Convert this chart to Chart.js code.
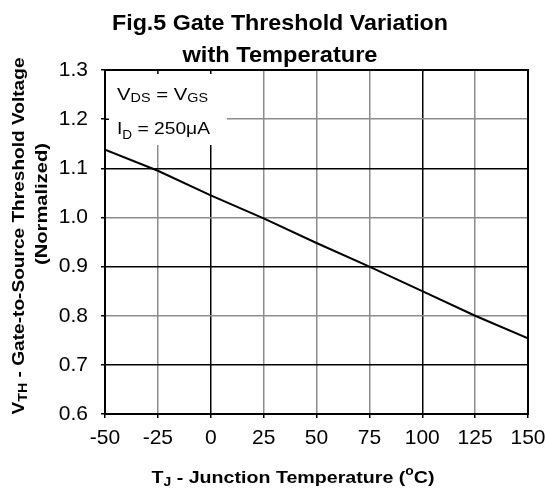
<!DOCTYPE html>
<html>
<head>
<meta charset="utf-8">
<script src="https://cdn.jsdelivr.net/npm/chart.js@4.4.1/dist/chart.umd.min.js"></script>
<style>
  html, body { margin: 0; padding: 0; background: #fff; }
</style>
</head>
<body>
<canvas id="fig5" width="545" height="491"></canvas>
<script>
/************/
/*** DATA ***/
/************/

// Junction temperature (°C) and normalized threshold voltage:
const temps = [-50, -25, 0, 25, 50, 75, 100, 125, 150];
const vthNorm = [1.138, 1.095, 1.045, 0.998, 0.948, 0.900, 0.850, 0.800, 0.754];

// Axis ticks:
const xTickLabels = ['-50', '-25', '0', '25', '50', '75', '100', '125', '150'];
const yTickLabels = ['0.6', '0.7', '0.8', '0.9', '1.0', '1.1', '1.2', '1.3'];

// Grid lines drawn in black (the rest are grey):
const darkXLines = [0, 100];
const darkYLines = [1.1, 0.9, 0.7];

/***************/
/*** HELPERS ***/
/***************/

const FONT = '"Liberation Sans", Arial, sans-serif';

// Draw text made of segments (normal / sub / sup), stretched to a target width.
// (x, y) is the baseline anchor; align is 'center' or 'left'.
function drawRich(ctx, segs, x, y, size, bold, targetW, align, rot) {
    const w = bold ? 'bold ' : '';
    const fontFor = s => w + Math.round(size * (s.sub || s.sup ? 0.72 : 1)) + 'px ' + FONT;
    let total = 0;
    segs.forEach(s => { ctx.font = fontFor(s); total += ctx.measureText(s.t).width; });
    const sx = targetW ? targetW / total : 1;
    ctx.save();
    ctx.translate(x, y);
    if (rot) ctx.rotate(rot);
    ctx.scale(sx, 1);
    ctx.fillStyle = '#000';
    ctx.textBaseline = 'alphabetic';
    ctx.textAlign = 'left';
    let cx = align === 'left' ? 0 : -total / 2;
    segs.forEach(s => {
        ctx.font = fontFor(s);
        let dy = 0;
        if (s.sub) dy = s.dy !== undefined ? s.dy : size * 0.18;
        if (s.sup) dy = -size * 0.45;
        ctx.fillText(s.t, cx, dy);
        cx += ctx.measureText(s.t).width;
    });
    ctx.restore();
}

// Conditions box, titles and frame:
const annotations = {
    id: 'annotations',
    beforeDatasetsDraw(chart) {
        const {ctx, chartArea: a, scales: {x, y}} = chart;
        // white box hiding the grid behind the test conditions
        ctx.save();
        ctx.fillStyle = '#fff';
        ctx.fillRect(a.left + 1, a.top + 1, 121, 74);
        // small marks left at the box edges
        ctx.strokeStyle = '#000';
        ctx.lineWidth = 1.5;
        ctx.beginPath();
        [-25, 0].forEach(v => { ctx.moveTo(x.getPixelForValue(v), a.top); ctx.lineTo(x.getPixelForValue(v), a.top + 4); });
        ctx.moveTo(a.left, y.getPixelForValue(1.2)); ctx.lineTo(a.left + 4, y.getPixelForValue(1.2));
        ctx.stroke();
        ctx.restore();
        drawRich(ctx, [{t: 'V'}, {t: 'DS', sub: true, dy: 2}, {t: ' = V'}, {t: 'GS', sub: true, dy: 2}],
            117, 100, 17, false, 91, 'left');
        drawRich(ctx, [{t: 'I'}, {t: 'D', sub: true, dy: 5}, {t: ' = 250\u03bcA'}],
            117, 134, 17, false, 93, 'left');
    },
    afterDraw(chart) {
        const {ctx, chartArea: a} = chart;
        ctx.save();
        ctx.strokeStyle = '#000';
        ctx.lineWidth = 2;
        ctx.strokeRect(a.left, a.top, a.right - a.left, a.bottom - a.top);
        ctx.restore();
        // title
        drawRich(ctx, [{t: 'Fig.5 Gate Threshold Variation'}], 280, 30, 22, true, 336);
        drawRich(ctx, [{t: 'with Temperature'}], 280, 62, 22, true, 195);
        // axis titles
        drawRich(ctx, [{t: 'T'}, {t: 'J', sub: true, dy: 3}, {t: ' - Junction Temperature ('}, {t: 'o', sup: true}, {t: 'C)'}],
            293, 483, 17, true, 283);
        drawRich(ctx, [{t: 'V'}, {t: 'TH', sub: true, dy: 3}, {t: ' - Gate-to-Source Threshold Voltage'}],
            24, 236, 16, true, 357, 'center', -Math.PI / 2);
        drawRich(ctx, [{t: '(Normalized)'}], 47, 204, 16, true, 122, 'center', -Math.PI / 2);
    }
};

/****************/
/*** PLOTTING ***/
/****************/

const gridGrey = '#8c8c8c';

const chart = new Chart(document.getElementById('fig5'), {
    type: 'line',
    data: {
        datasets: [{
            data: temps.map((t, i) => ({x: t, y: vthNorm[i]})),
            borderColor: '#000',
            borderWidth: 2,
            pointRadius: 0,
            tension: 0,
            fill: false
        }]
    },
    options: {
        responsive: false,
        animation: false,
        devicePixelRatio: 1,
        layout: {padding: {top: 70, right: 17, left: 0, bottom: 0}},
        plugins: {legend: {display: false}, tooltip: {enabled: false}, title: {display: false}},
        scales: {
            x: {
                type: 'linear',
                min: -50, max: 150,
                afterFit: s => { s.height = 77; s.paddingLeft = 0; s.paddingRight = 0; },
                afterBuildTicks: s => { s.ticks = xTickLabels.map(v => ({value: Number(v)})); },
                ticks: {
                    callback: v => String(v),
                    color: '#000',
                    font: {family: FONT, size: 21},
                    padding: 8,
                    maxRotation: 0,
                    autoSkip: false
                },
                grid: {
                    color: c => darkXLines.includes(c.tick.value) ? '#000' : gridGrey,
                    lineWidth: 1.5,
                    tickLength: 4,
                    tickColor: '#000'
                },
                border: {display: false}
            },
            y: {
                type: 'linear',
                min: 0.6, max: 1.3,
                afterFit: s => { s.width = 105; s.paddingTop = 0; s.paddingBottom = 0; },
                afterBuildTicks: s => { s.ticks = yTickLabels.map(v => ({value: Number(v)})); },
                ticks: {
                    callback: v => v.toFixed(1),
                    color: '#000',
                    font: {family: FONT, size: 21},
                    padding: 13,
                    autoSkip: false
                },
                grid: {
                    color: c => darkYLines.includes(Math.round(c.tick.value * 10) / 10) ? '#000' : gridGrey,
                    lineWidth: 1.5,
                    tickLength: 4,
                    tickColor: '#000'
                },
                border: {display: false}
            }
        }
    },
    plugins: [annotations]
});
</script>
</body>
</html>
